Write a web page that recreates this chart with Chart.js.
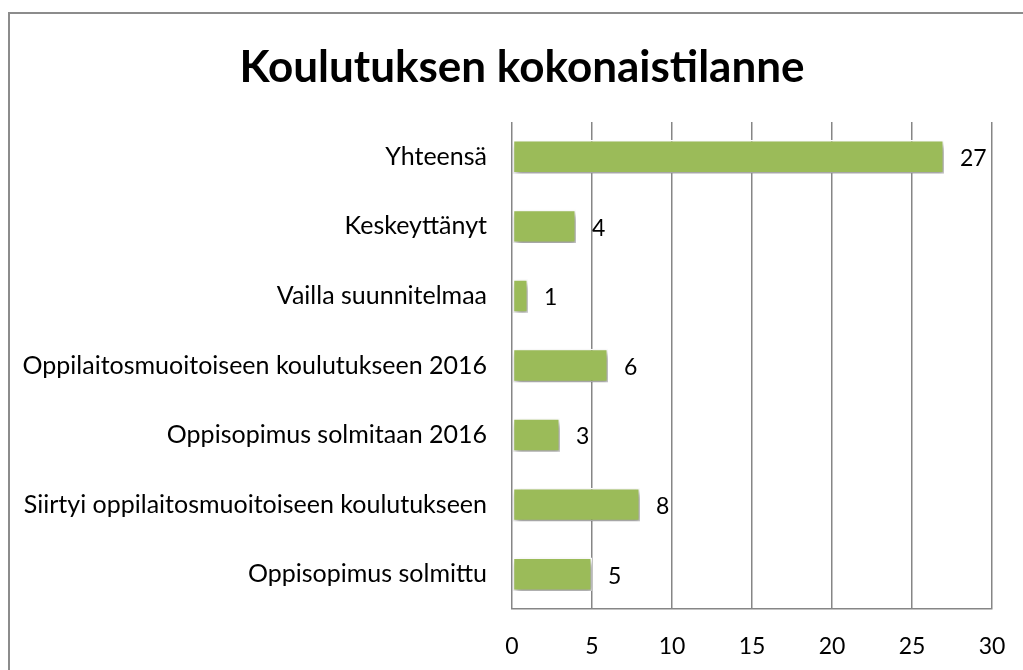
<!DOCTYPE html>
<html lang="fi">
<head>
<meta charset="UTF-8">
<title>Koulutuksen kokonaistilanne</title>
<script src="https://cdn.jsdelivr.net/npm/chart.js"></script>
<style>
    body { margin: 0; padding: 0; background: #fff; overflow: hidden; font-family: Lato, "Open Sans", sans-serif; }
    .frame { position: absolute; left: 8px; top: 12px; width: 1100px; height: 800px; border: 2px solid #8c8c8c; box-sizing: border-box; }
    .wrap { position: absolute; left: 0; top: 0; width: 1023px; height: 670px; }
    h1 { position: absolute; left: 22px; width: 1000px; top: 38px; margin: 0; text-align: center;
         font-size: 44px; line-height: 54px; font-weight: bold; color: #000; }
</style>
</head>
<body>
<div class="frame"></div>
<div class="wrap"><canvas id="chart" width="1023" height="670"></canvas></div>
<h1>Koulutuksen kokonaistilanne</h1>
<script>
    const categories = [
        'Yhteensä',
        'Keskeyttänyt',
        'Vailla suunnitelmaa',
        'Oppilaitosmuoitoiseen koulutukseen 2016',
        'Oppisopimus solmitaan 2016',
        'Siirtyi oppilaitosmuoitoiseen koulutukseen',
        'Oppisopimus solmittu'
    ];
    const values = [27, 4, 1, 6, 3, 8, 5];
    const xTicks = [0, 5, 10, 15, 20, 25, 30];

    const FONT = 'Lato, "Open Sans", sans-serif';

    // soft shadow under the bars, like the office original
    const barShadow = {
        id: 'barShadow',
        beforeDatasetDraw(chart) {
            const c = chart.ctx;
            c.save();
            c.shadowColor = 'rgba(0,0,0,0.4)';
            c.shadowBlur = 6;
            c.shadowOffsetX = 2;
            c.shadowOffsetY = 4;
        },
        afterDatasetDraw(chart) {
            chart.ctx.restore();
        }
    };

    // value labels at the end of each bar
    const valueLabels = {
        id: 'valueLabels',
        afterDatasetsDraw(chart) {
            const c = chart.ctx;
            const meta = chart.getDatasetMeta(0);
            c.save();
            c.font = '23px ' + FONT;
            c.fillStyle = '#000';
            c.textAlign = 'left';
            c.textBaseline = 'middle';
            meta.data.forEach((bar, i) => {
                c.fillText(String(values[i]), bar.x + 16, bar.y + 2);
            });
            c.restore();
        }
    };

    new Chart(document.getElementById('chart'), {
        type: 'bar',
        data: {
            labels: categories,
            datasets: [{
                data: values,
                backgroundColor: '#9bbb59',
                borderColor: '#ffffff',
                borderWidth: 1.5,
                borderSkipped: false,
                categoryPercentage: 1,
                barPercentage: 0.48
            }]
        },
        options: {
            indexAxis: 'y',
            responsive: false,
            animation: false,
            layout: { padding: { top: 122, right: 31, bottom: 0, left: 0 } },
            plugins: {
                legend: { display: false },
                tooltip: { enabled: false },
                title: { display: false }
            },
            scales: {
                x: {
                    min: 0,
                    max: 30,
                    afterBuildTicks(axis) { axis.ticks = xTicks.map(v => ({ value: v })); },
                    afterFit(axis) {
                        axis.height = 61;
                        axis.paddingLeft = 0;
                        axis.paddingRight = 0;
                    },
                    grid: { color: '#868686', lineWidth: 1.5, drawTicks: false },
                    border: { color: '#868686', width: 1.5 },
                    ticks: { color: '#000', padding: 24, font: { family: FONT, size: 23 } }
                },
                y: {
                    afterFit(axis) { axis.width = 512; },
                    grid: { display: false, drawTicks: false },
                    border: { display: false },
                    ticks: { color: '#000', padding: 25, font: { family: FONT, size: 25 } }
                }
            }
        },
        plugins: [barShadow, valueLabels]
    });
</script>
</body>
</html>
